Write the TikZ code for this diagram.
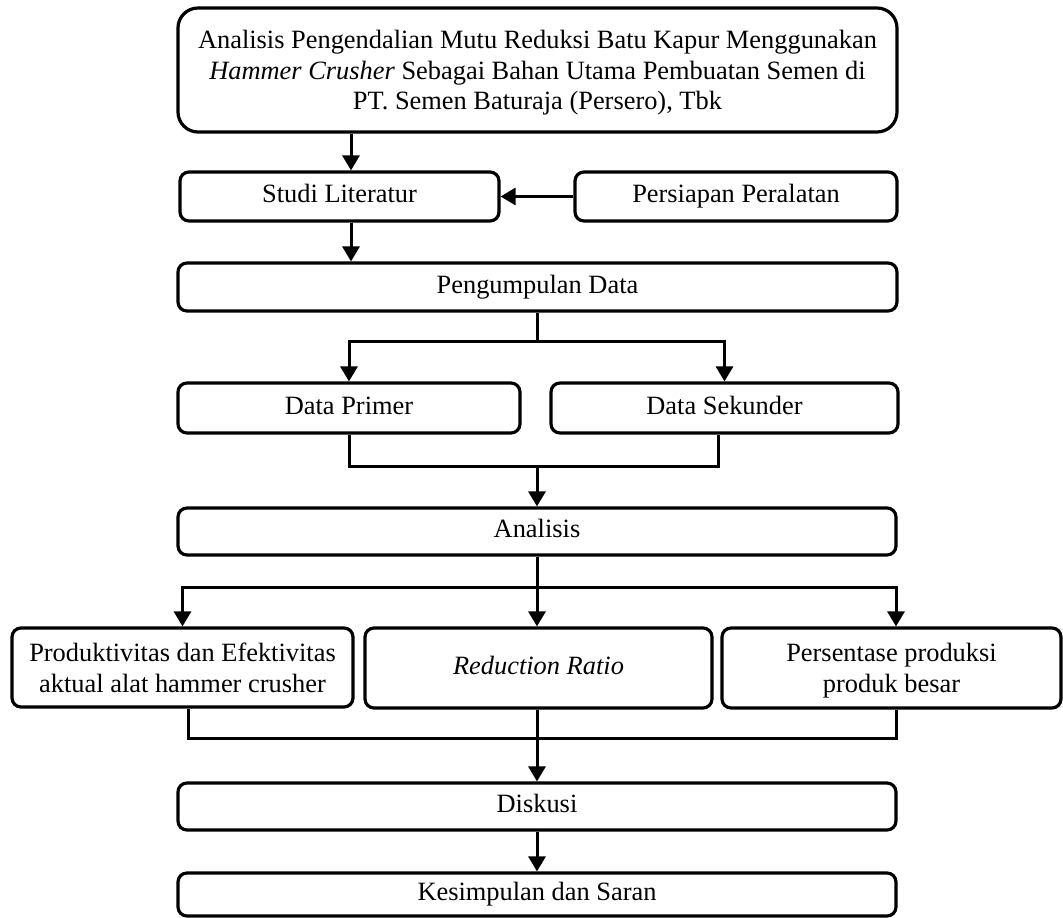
\documentclass[tikz,border=0pt]{standalone}
\usepackage{fontspec}
\setmainfont{Liberation Serif}
\usetikzlibrary{arrows.meta}
\begin{document}
\begin{tikzpicture}[x=1pt,y=-1pt,
 box/.style={draw, line width=3.2pt, rounded corners=9pt, inner sep=0pt, align=center, text height=18pt, text depth=6pt, font=\fontsize{26.4}{30.5}\selectfont},
 multi/.style={text height=, text depth=0pt},
 arr/.style={line width=3pt, line join=miter, -{Triangle[length=15pt,width=17pt]}},
 ln/.style={line width=3pt, line join=miter}]
\useasboundingbox (0,0) rectangle (1063,918);

\node[box, multi, rounded corners=20pt, minimum width=719pt, minimum height=124pt] (top) at (537.5,70)
 {Analisis Pengendalian Mutu Reduksi Batu Kapur Menggunakan\\ \textit{Hammer Crusher} Sebagai Bahan Utama Pembuatan Semen di\\ PT. Semen Baturaja (Persero), Tbk};
\node[box, minimum width=319pt, minimum height=49pt] (studi) at (339.5,196.5) {Studi Literatur};
\node[box, minimum width=322pt, minimum height=49pt] (pers) at (736,196.5) {Persiapan Peralatan};
\node[box, minimum width=719pt, minimum height=48pt] (peng) at (537.5,287) {Pengumpulan Data};
\node[box, minimum width=342pt, minimum height=50pt] (primer) at (349,408) {Data Primer};
\node[box, minimum width=347pt, minimum height=50pt] (sekunder) at (724.5,408) {Data Sekunder};
\node[box, minimum width=718pt, minimum height=47pt] (analisis) at (537,531.5) {Analisis};
\node[box, multi, minimum width=341pt, minimum height=79pt] (prod) at (182.5,667.5) {Produktivitas dan Efektivitas\\aktual alat hammer crusher};
\node[box, minimum width=347pt, minimum height=80pt] (rr) at (538.5,668) {\textit{Reduction Ratio}};
\node[box, multi, minimum width=339pt, minimum height=80pt] (persen) at (891.5,668) {Persentase produksi\\produk besar};
\node[box, minimum width=718pt, minimum height=47pt] (diskusi) at (537,806.5) {Diskusi};
\node[box, minimum width=718pt, minimum height=43pt] (kes) at (537,894.5) {Kesimpulan dan Saran};

\coordinate (cL) at (351,0);
\coordinate (cM) at (537,0);
\coordinate (sR) at (718,0);
\coordinate (pL) at (188,0);
\coordinate (pR) at (896,0);
\coordinate (h1) at (0,341);
\coordinate (h2) at (0,466);
\coordinate (h3) at (0,587);
\coordinate (h4) at (0,738);

\draw[arr] (cL |- top.south) -- (cL |- studi.north);
\draw[arr] (pers.west) -- (studi.east);
\draw[arr] (cL |- studi.south) -- (cL |- peng.north);

\draw[ln] (peng.south) -- (peng.south |- h1);
\draw[arr] (peng.south |- h1) -| (primer.north);
\draw[arr] (peng.south |- h1) -| (sekunder.north);

\draw[ln] (primer.south) -- (primer.south |- h2) -- (sR |- h2) -- (sR |- sekunder.south);
\draw[arr] (cM |- h2) -- (cM |- analisis.north);

\draw[arr] (cM |- analisis.south) -- (cM |- rr.north);
\draw[arr] (cM |- h3) -| (prod.north);
\draw[arr] (cM |- h3) -| (pR |- persen.north);

\draw[ln] (pL |- prod.south) -- (pL |- h4) -- (pR |- h4) -- (pR |- persen.south);
\draw[arr] (cM |- rr.south) -- (cM |- diskusi.north);
\draw[arr] (cM |- diskusi.south) -- (cM |- kes.north);
\end{tikzpicture}
\end{document}
